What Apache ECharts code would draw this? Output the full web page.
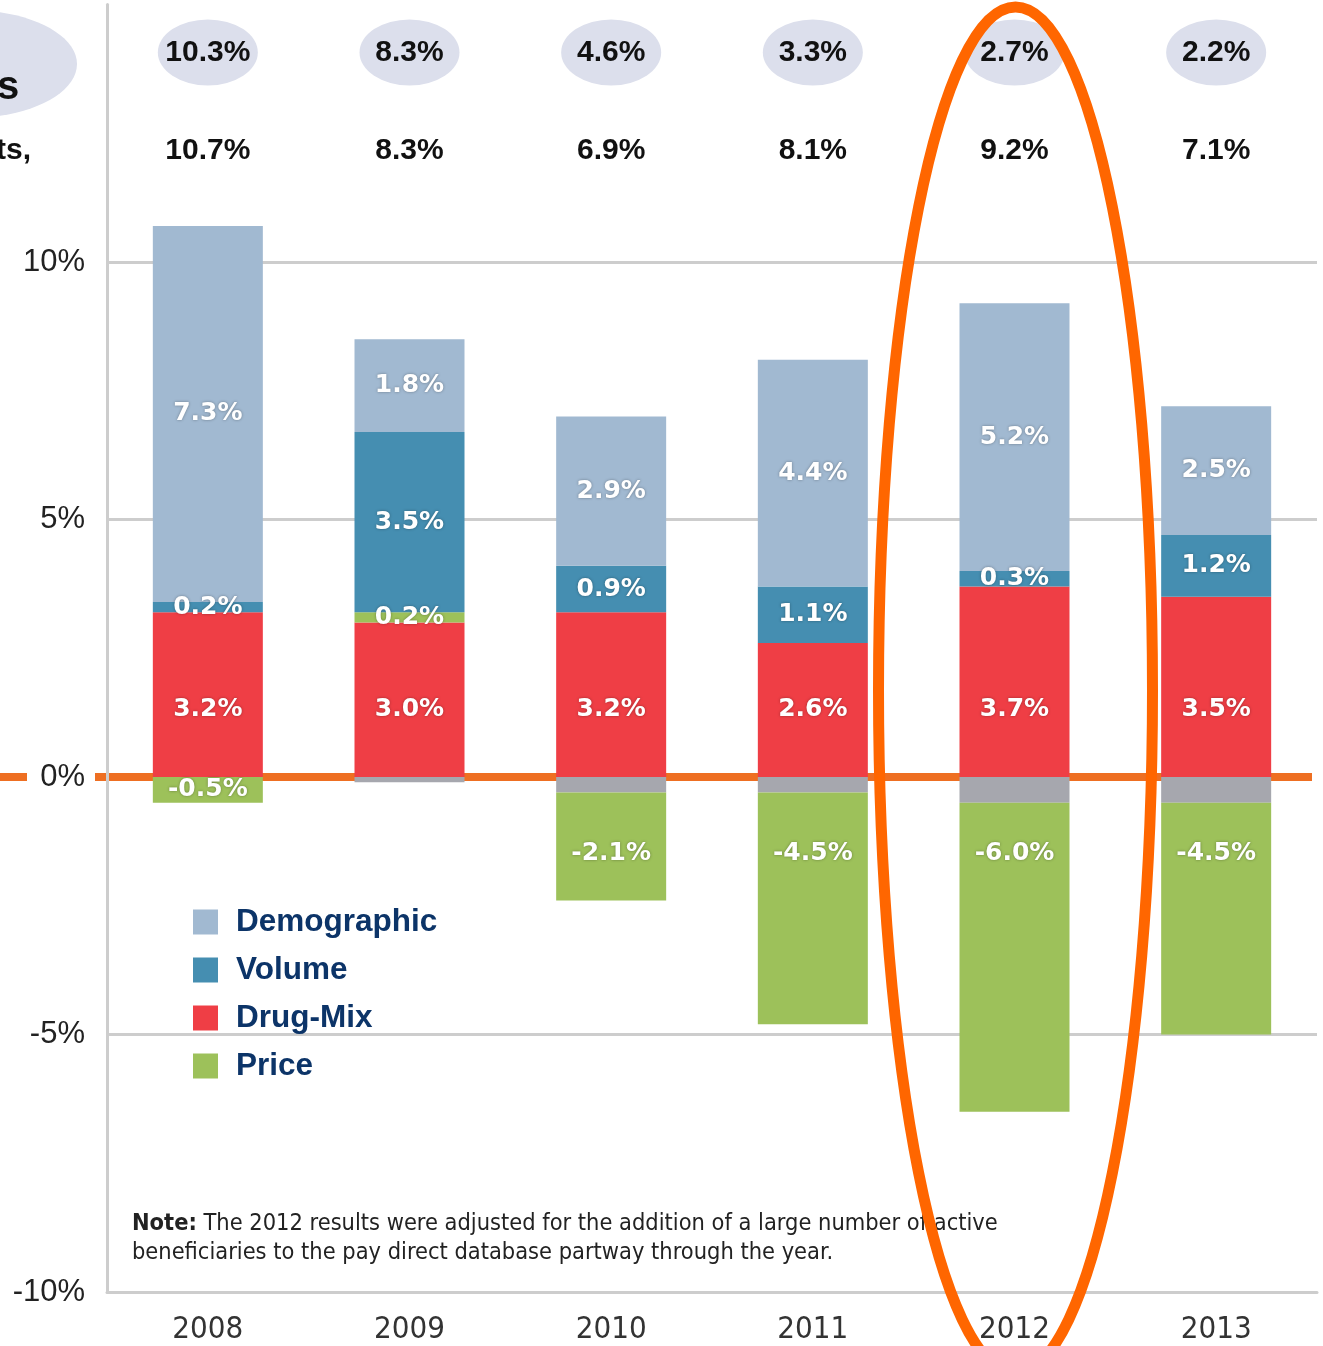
<!DOCTYPE html>
<html>
<head>
<meta charset="utf-8">
<script src="https://cdn.jsdelivr.net/npm/echarts@6/dist/echarts.min.js"></script>
<style>
  html, body { margin: 0; padding: 0; background: #fff; }
  #chart { width: 1323px; height: 1346px; }
</style>
</head>
<body>
<div id="chart"></div>
<script>
// categories and values (percent)
const years = ['2008', '2009', '2010', '2011', '2012', '2013']
const demographic = [7.3, 1.8, 2.9, 4.4, 5.2, 2.5]
const volume = [0.2, 3.5, 0.9, 1.1, 0.3, 1.2]
const drugMix = [3.2, 3.0, 3.2, 2.6, 3.7, 3.5]
const price = [-0.5, 0.2, -2.1, -4.5, -6.0, -4.5]
const other = [0, -0.1, -0.3, -0.3, -0.5, -0.5]
// rows printed above the bars
const topRates = ['10.3%', '8.3%', '4.6%', '3.3%', '2.7%', '2.2%']
const totals = ['10.7%', '8.3%', '6.9%', '8.1%', '9.2%', '7.1%']
const yTicks = [-10, -5, 0, 5, 10]

// row heights for the header rows, in axis units
const ROW1_LEVEL = 14.07
const ROW2_LEVEL = 12.17
// label offset for the tall negative price bars
const priceLabelDist = [0, 0, 46, 46, 36, 36]

const C = {
  demo: '#A1B9D1',
  vol: '#458EB1',
  mix: '#EF3E45',
  price: '#9DC15A',
  other: '#A6A7AE',
  orange: '#EE6F22',
  grid: '#CDCDCD'
}

const myChart = echarts.init(document.getElementById('chart'))

const barLabel = {
  show: true,
  position: 'inside',
  color: '#fff',
  fontFamily: 'DejaVu Sans',
  fontWeight: 'bold',
  fontSize: 25,
  lineHeight: 30,
  textShadowColor: 'rgba(0,0,0,0.35)',
  textShadowBlur: 3,
  formatter: (p) => (p.value === 0 ? '' : p.value.toFixed(1) + '%')
}

const priceData = price.map((v, i) => {
  if (v < -1) {
    return { value: v, label: { position: 'insideTop', distance: priceLabelDist[i] } }
  }
  return v
})

const barBase = {
  type: 'bar',
  stack: 'total',
  barWidth: 110,
  z: 2
}

const headLabel = {
  show: true,
  position: 'inside',
  fontFamily: 'Liberation Sans',
  fontWeight: 'bold',
  fontSize: 30,
  color: '#111'
}

const option = {
  backgroundColor: '#fff',
  animation: false,
  grid: {
    left: 107,
    right: 6,
    top: 4.5,
    bottom: 54,
    outerBoundsMode: 'none'
  },
  legend: {
    data: ['Demographic', 'Volume', 'Drug-Mix', 'Price'],
    orient: 'vertical',
    left: 188,
    top: 901,
    itemWidth: 25,
    itemHeight: 25,
    itemGap: 16,
    icon: 'rect',
    formatter: (name) => '{a|' + name + '}',
    textStyle: {
      rich: {
        a: {
          fontFamily: 'Liberation Sans',
          fontWeight: 'bold',
          fontSize: 31.5,
          lineHeight: 30,
          color: '#0C3468',
          padding: [0, 0, 0, 13]
        }
      }
    }
  },
  xAxis: {
    type: 'category',
    data: years,
    axisLine: { onZero: false, lineStyle: { color: C.grid, width: 3 } },
    axisTick: { show: false },
    axisLabel: {
      margin: 22,
      fontFamily: 'DejaVu Sans Condensed',
      fontSize: 31,
      color: '#333'
    }
  },
  yAxis: {
    type: 'value',
    min: -10,
    max: 15,
    interval: 5,
    z: 1,
    axisLine: { show: true, lineStyle: { color: C.grid, width: 3 } },
    axisTick: { show: false },
    splitLine: {
      lineStyle: {
        // -10, -5, 0, 5, 10, 15
        color: [C.grid, C.grid, 'rgba(0,0,0,0)', C.grid, C.grid, 'rgba(0,0,0,0)'],
        width: 3
      }
    },
    axisLabel: {
      margin: 22,
      formatter: (v) => (yTicks.indexOf(v) >= 0 ? (v === 0 ? '{z|0%}' : v + '%') : ''),
      fontFamily: 'Liberation Sans',
      fontSize: 31,
      color: '#222',
      rich: {
        z: {
          fontFamily: 'Liberation Sans',
          fontSize: 31,
          color: '#222',
          backgroundColor: '#fff',
          padding: [6, 0, 6, 11]
        }
      }
    }
  },
  series: [
    { ...barBase, name: 'Other', data: other, itemStyle: { color: C.other }, label: { show: false } },
    { ...barBase, name: 'Drug-Mix', data: drugMix, itemStyle: { color: C.mix },
      label: { ...barLabel, position: 'insideBottom', distance: 53 } },
    { ...barBase, name: 'Price', data: priceData, itemStyle: { color: C.price }, label: barLabel },
    { ...barBase, name: 'Volume', data: volume, itemStyle: { color: C.vol }, label: barLabel },
    { ...barBase, name: 'Demographic', data: demographic, itemStyle: { color: C.demo }, label: barLabel },
    {
      type: 'scatter',
      name: 'rate',
      symbol: 'circle',
      symbolSize: [100, 66],
      itemStyle: { color: '#DCDFEC', opacity: 1 },
      data: topRates.map((t, i) => [i, ROW1_LEVEL]),
      label: { ...headLabel, formatter: (p) => topRates[p.dataIndex] },
      z: 3
    },
    {
      type: 'scatter',
      name: 'total',
      symbolSize: 0,
      itemStyle: { opacity: 1 },
      data: totals.map((t, i) => [i, ROW2_LEVEL]),
      label: { ...headLabel, formatter: (p) => totals[p.dataIndex] },
      z: 3
    }
  ]
}

myChart.setOption(option)

// annotations: orange zero line, highlight ellipse, left cut-off header, note
const zeroY = myChart.convertToPixel({ yAxisIndex: 0 }, 0)
const cx2012 = myChart.convertToPixel({ xAxisIndex: 0 }, '2012')

myChart.setOption({
  graphic: [
    // left part of the zero line, the rest sits right of the "0%" label
    {
      type: 'line',
      z: 0,
      shape: { x1: 0, y1: zeroY, x2: 27, y2: zeroY },
      style: { stroke: C.orange, lineWidth: 8 }
    },
    {
      type: 'line',
      z: 0,
      shape: { x1: 95, y1: zeroY, x2: 1312, y2: zeroY },
      style: { stroke: C.orange, lineWidth: 8 }
    },
    {
      type: 'ellipse',
      z: 0,
      shape: { cx: -30, cy: 64, rx: 107, ry: 54 },
      style: { fill: '#DCDFEC' }
    },
    {
      type: 'text',
      z: 1,
      x: -3,
      y: 88,
      style: {
        text: 's',
        font: 'bold 40px "Liberation Sans"',
        fill: '#111',
        verticalAlign: 'middle'
      }
    },
    {
      type: 'text',
      z: 1,
      x: -4,
      y: 151,
      style: {
        text: 'ts,',
        font: 'bold 30px "Liberation Sans"',
        fill: '#111',
        verticalAlign: 'middle'
      }
    },
    {
      type: 'text',
      z: 5,
      x: 132,
      y: 1209,
      style: {
        text: '{b|Note:}{r| The 2012 results were adjusted for the addition of a large number of active}\n{r|beneficiaries to the pay direct database partway through the year.}',
        rich: {
          b: { font: 'bold 23.4px "DejaVu Sans Condensed", sans-serif', fill: '#222', lineHeight: 29 },
          r: { font: '23.4px "DejaVu Sans Condensed", sans-serif', fill: '#222', lineHeight: 29 }
        }
      }
    },
    {
      type: 'ellipse',
      z: 20,
      silent: true,
      shape: { cx: cx2012 + 1, cy: 690, rx: 137, ry: 683 },
      style: { fill: 'none', stroke: '#FF6600', lineWidth: 11 }
    }
  ]
})
</script>
</body>
</html>
